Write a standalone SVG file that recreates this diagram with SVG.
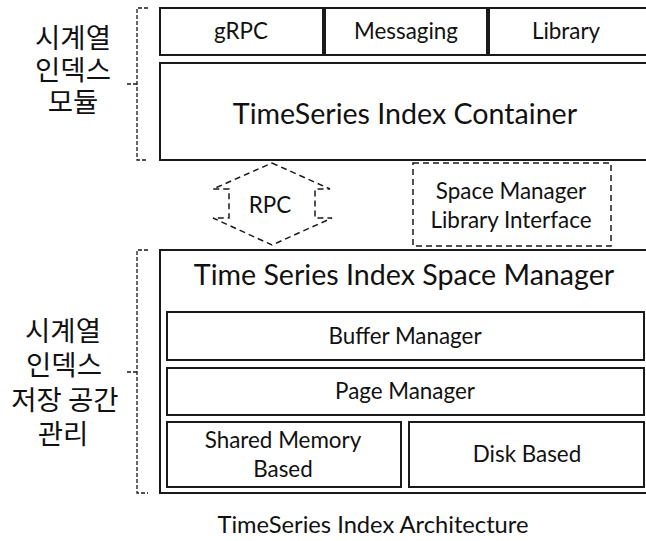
<svg xmlns="http://www.w3.org/2000/svg" width="646" height="541" viewBox="0 0 646 541">
<style>
.box{fill:#fff;stroke:#1a1a1a;stroke-width:2}
.dash{fill:none;stroke:#1a1a1a;stroke-width:1.5;stroke-dasharray:6 4}
.br{fill:none;stroke:#1a1a1a;stroke-width:1.3;stroke-dasharray:4 2}
text{font-family:Lato,"Liberation Sans","Noto Sans CJK KR",sans-serif;fill:#111;text-anchor:middle}
.ko{font-family:"Noto Sans CJK KR",sans-serif;font-size:27.5px}
.lg{font-size:28.6px}
.md{font-size:22.4px}
.ti{font-size:23.7px}
</style>
<rect width="646" height="541" fill="#fff"/>
<g id="label-module">
<path class="br" d="M148 8 H137 V160 H148 M137 84 H126"/>
<text class="ko"><tspan x="73" y="48">시계열</tspan><tspan x="73" y="80">인덱스</tspan><tspan x="73" y="112">모듈</tspan></text>
</g>
<g id="grpc"><rect class="box" x="160" y="8" width="163" height="47"/><text class="md" x="241" y="39">gRPC</text></g>
<g id="messaging"><rect class="box" x="325" y="8" width="162" height="47"/><text class="md" x="406" y="39">Messaging</text></g>
<g id="library"><rect class="box" x="489" y="8" width="170" height="47"/><text class="md" x="566" y="39">Library</text></g>
<g id="container"><rect class="box" x="160" y="63" width="500" height="97"/><text class="lg" x="405" y="124">TimeSeries Index Container</text></g>
<g id="rpc"><polygon class="dash" points="272,163 330,189 315,189 315,218 332,218 272,245 213,218 229,218 229,189 213,189"/><text class="md" x="270" y="213">RPC</text></g>
<g id="lib-interface"><rect class="dash" x="413" y="163" width="198" height="83"/><text class="md"><tspan x="511" y="199">Space Manager</tspan><tspan x="511" y="228">Library Interface</tspan></text></g>
<g id="label-storage">
<path class="br" d="M148 250 H137 V493 H148 M137 372 H126"/>
<text class="ko"><tspan x="63" y="341">시계열</tspan><tspan x="64" y="375">인덱스</tspan><tspan x="65" y="410">저장 공간</tspan><tspan x="63" y="444">관리</tspan></text>
</g>
<g id="space-manager"><rect class="box" x="160" y="250" width="500" height="243"/><text class="lg" x="404" y="285">Time Series Index Space Manager</text></g>
<g id="buffer-manager"><rect class="box" x="167" y="312" width="477" height="48"/><text class="md" x="405" y="344">Buffer Manager</text></g>
<g id="page-manager"><rect class="box" x="167" y="368" width="477" height="47"/><text class="md" x="405" y="399">Page Manager</text></g>
<g id="shared-memory"><rect class="box" x="167" y="422" width="234" height="65"/><text class="md"><tspan x="283" y="448">Shared Memory</tspan><tspan x="283" y="477">Based</tspan></text></g>
<g id="disk-based"><rect class="box" x="409" y="422" width="235" height="65"/><text class="md" x="527" y="462">Disk Based</text></g>
<g id="connectors"/>
<text class="ti" x="373" y="533">TimeSeries Index Architecture</text>
</svg>
